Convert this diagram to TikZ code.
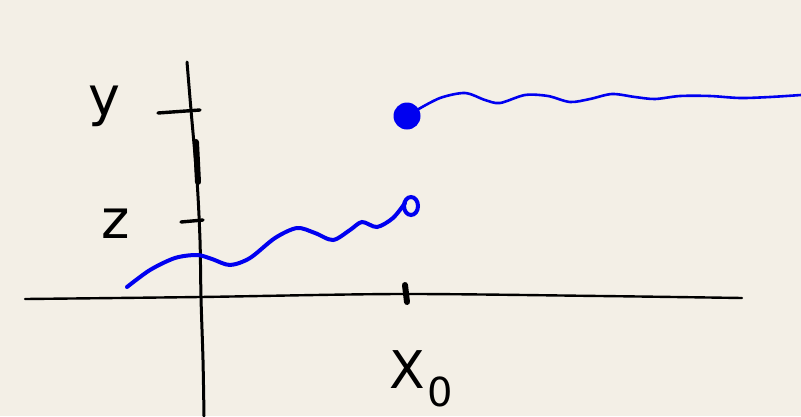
\documentclass[tikz,border=0pt]{standalone}
\usepackage{fontspec}
\setmainfont{DejaVu Sans}
\definecolor{paper}{HTML}{F3EFE6}
\definecolor{pen}{HTML}{0000F0}
\tikzset{
  axis/.style={line width=2.4pt, line cap=round, black},
  tickmark/.style={line width=3.4pt, line cap=round, black},
  wave/.style={line width=4pt, line cap=round, pen},
  lbl/.style={font=\fontsize{54}{54}\selectfont, text=black, inner sep=0pt}
}
\begin{document}
\begin{tikzpicture}[x=1pt,y=-1pt]
\fill[paper] (0,0) rectangle (801,416);
\useasboundingbox (0,0) rectangle (801,416);
% axes
\draw[axis] plot[smooth] coordinates {(25,299) (200,297) (400,294) (600,296) (742,298)};
\draw[axis, line width=3pt] plot[smooth] coordinates {(187,62) (191,110) (197,180) (200,240) (201,298) (203,360) (204,416)};
\draw[line width=6pt, line cap=round] (196,142) -- (198,182);
% ticks
\coordinate (ty0) at (158,113); \coordinate (ty1) at (200,110);
\draw[tickmark] (ty0) -- (ty1);
\coordinate (tz0) at (181,222); \coordinate (tz1) at (203,220);
\draw[tickmark] (tz0) -- (tz1);
\coordinate (tx0) at (405,285); \coordinate (tx1) at (407,302);
\draw[tickmark, line width=6pt] (tx0) -- (tx1);
% labels
\node[lbl] (ly) at (104,106) {y};
\node[lbl] (lz) at (116,224) {z};
\node[lbl, font=\fontsize{52}{52}\selectfont] (lx) at (407,370) {X};
\node[lbl, font=\fontsize{40}{40}\selectfont] (lx0) at (440,392) {0};
% filled dot and wave
\node[circle, fill=pen, minimum size=27pt, inner sep=0pt] (dot) at (407,116) {};
\draw[pen, line width=2.6pt, line cap=round] plot[smooth] coordinates {(417,110) (440,98) (465,93) (485,100) (500,103) (525,95) (548,96) (570,102) (590,99) (612,94) (635,97) (655,99) (680,96) (710,96) (740,98) (770,97) (801,95)};
% open circle and wave
\draw[pen, line width=4pt] (411,206) ellipse [x radius=7, y radius=9];
\draw[wave] plot[smooth] coordinates {(127,287) (150,270) (175,258) (197,255) (212,259) (230,265) (250,258) (275,238) (297,228) (315,233) (333,240) (350,230) (362,222) (377,227) (393,218) (405,203)};
\end{tikzpicture}
\end{document}
